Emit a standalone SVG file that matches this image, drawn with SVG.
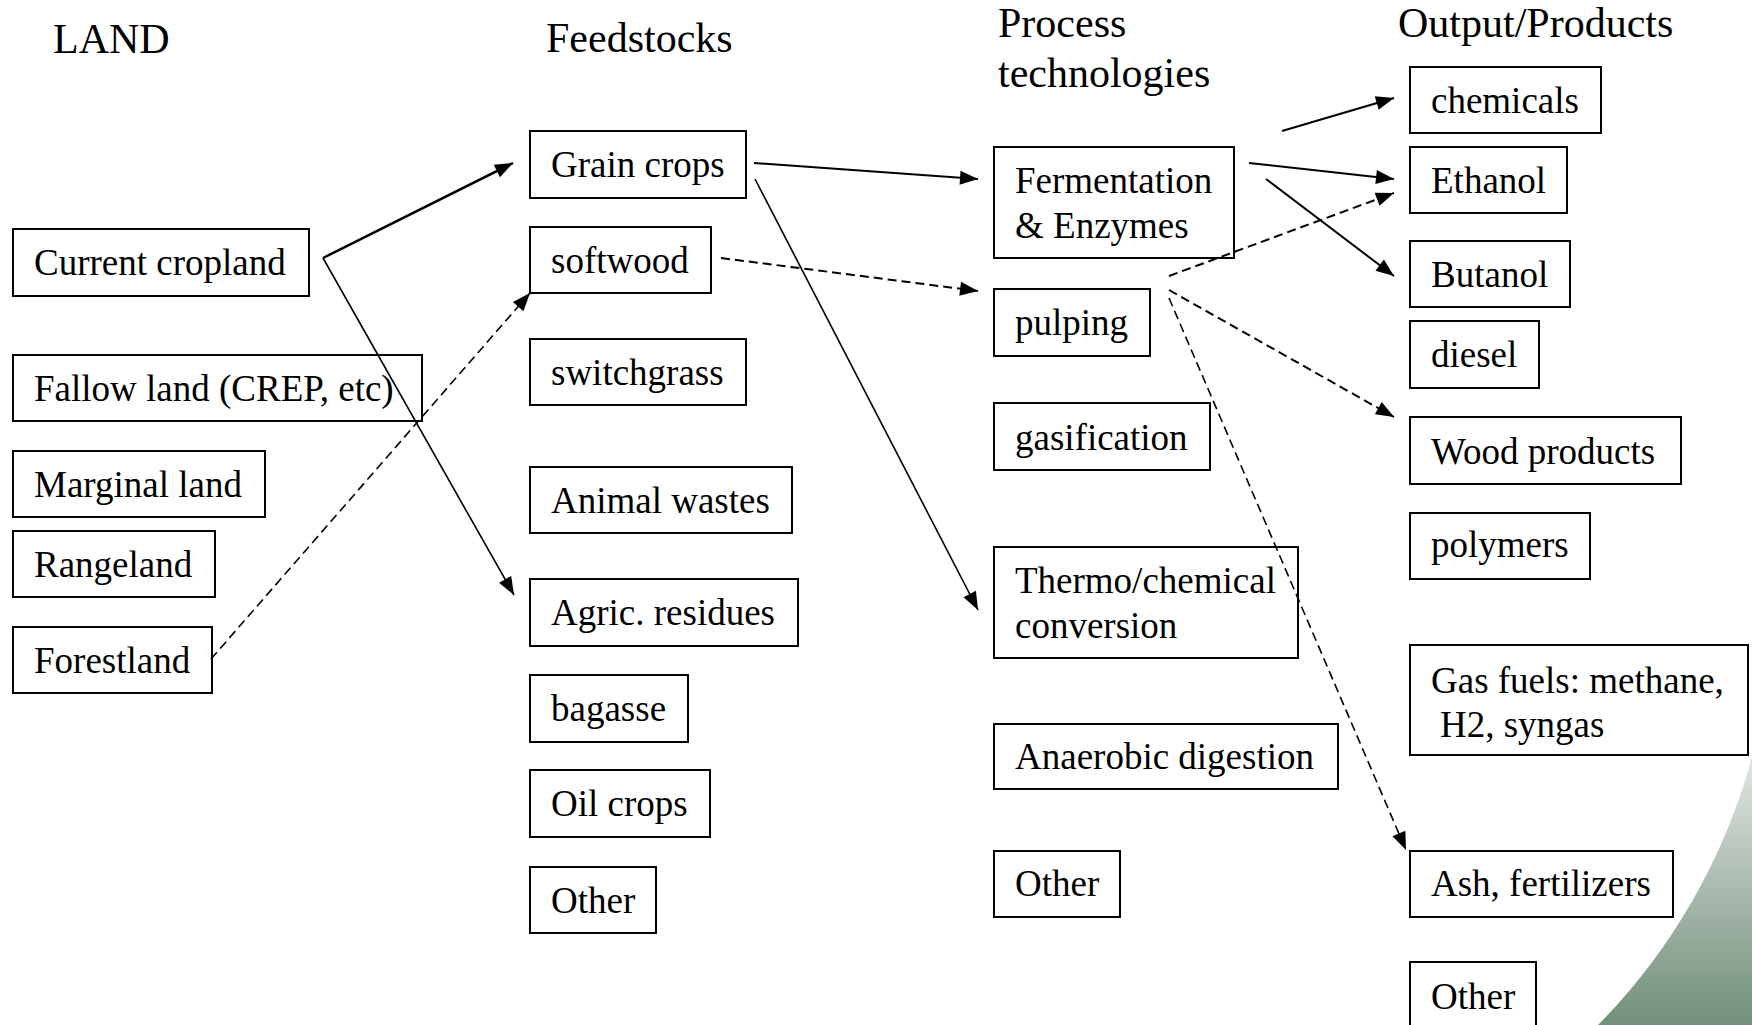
<svg xmlns="http://www.w3.org/2000/svg" width="1752" height="1025" viewBox="0 0 1752 1025">
<style>
.box{fill:#fff;stroke:#000;stroke-width:2}
.t{font-family:"Liberation Serif","Times New Roman",serif;font-size:37px;fill:#000}
.h{font-family:"Liberation Serif","Times New Roman",serif;font-size:42px;fill:#000}
.c{fill:none;stroke:#000;stroke-width:2}
.d{stroke-dasharray:9,5}
</style>
<defs>
<linearGradient id="g" x1="0" y1="757" x2="0" y2="1025" gradientUnits="userSpaceOnUse">
<stop offset="0" stop-color="#e2e6e2"/>
<stop offset="0.5" stop-color="#a8b9ad"/>
<stop offset="1" stop-color="#71907b"/>
</linearGradient>
<marker id="a" markerUnits="userSpaceOnUse" markerWidth="20" markerHeight="16" refX="18" refY="7" orient="auto" overflow="visible">
<path d="M0,0 L18,7 L0,14 z" fill="#000"/>
</marker>
</defs>
<rect x="0" y="0" width="1752" height="1025" fill="#fff"/>
<path d="M1752,757 A610,610 0 0 1 1598,1025 L1752,1025 Z" fill="url(#g)"/>

<g id="headings">
<text class="h" x="53" y="53">LAND</text>
<text class="h" x="546" y="52">Feedstocks</text>
<text class="h" x="998" y="37">Process</text>
<text class="h" x="998" y="87">technologies</text>
<text class="h" x="1398" y="37">Output/Products</text>
</g>

<g id="current-cropland"><rect class="box" x="13" y="229" width="296" height="67"/><text class="t" x="34" y="275">Current cropland</text></g>
<g id="fallow-land"><rect class="box" x="13" y="355" width="409" height="66"/><text class="t" x="34" y="401">Fallow land (CREP, etc)</text></g>
<g id="marginal-land"><rect class="box" x="13" y="451" width="252" height="66"/><text class="t" x="34" y="497">Marginal land</text></g>
<g id="rangeland"><rect class="box" x="13" y="531" width="202" height="66"/><text class="t" x="34" y="577">Rangeland</text></g>
<g id="forestland"><rect class="box" x="13" y="627" width="199" height="66"/><text class="t" x="34" y="673">Forestland</text></g>

<g id="grain-crops"><rect class="box" x="530" y="131" width="216" height="67"/><text class="t" x="551" y="177">Grain crops</text></g>
<g id="softwood"><rect class="box" x="530" y="227" width="181" height="66"/><text class="t" x="551" y="273">softwood</text></g>
<g id="switchgrass"><rect class="box" x="530" y="339" width="216" height="66"/><text class="t" x="551" y="385">switchgrass</text></g>
<g id="animal-wastes"><rect class="box" x="530" y="467" width="262" height="66"/><text class="t" x="551" y="513">Animal wastes</text></g>
<g id="agric-residues"><rect class="box" x="530" y="579" width="268" height="67"/><text class="t" x="551" y="625">Agric. residues</text></g>
<g id="bagasse"><rect class="box" x="530" y="675" width="158" height="67"/><text class="t" x="551" y="721">bagasse</text></g>
<g id="oil-crops"><rect class="box" x="530" y="770" width="180" height="67"/><text class="t" x="551" y="816">Oil crops</text></g>
<g id="feed-other"><rect class="box" x="530" y="867" width="126" height="66"/><text class="t" x="551" y="913">Other</text></g>

<g id="fermentation"><rect class="box" x="994" y="147" width="240" height="111"/><text class="t" x="1015" y="193">Fermentation</text><text class="t" x="1015" y="238">&amp; Enzymes</text></g>
<g id="pulping"><rect class="box" x="994" y="289" width="156" height="67"/><text class="t" x="1015" y="335">pulping</text></g>
<g id="gasification"><rect class="box" x="994" y="403" width="216" height="67"/><text class="t" x="1015" y="450">gasification</text></g>
<g id="thermo"><rect class="box" x="994" y="547" width="304" height="111"/><text class="t" x="1015" y="593">Thermo/chemical</text><text class="t" x="1015" y="638">conversion</text></g>
<g id="anaerobic"><rect class="box" x="994" y="724" width="344" height="65"/><text class="t" x="1015" y="769">Anaerobic digestion</text></g>
<g id="proc-other"><rect class="box" x="994" y="851" width="126" height="66"/><text class="t" x="1015" y="896">Other</text></g>

<g id="chemicals"><rect class="box" x="1410" y="67" width="191" height="66"/><text class="t" x="1431" y="113">chemicals</text></g>
<g id="ethanol"><rect class="box" x="1410" y="147" width="157" height="66"/><text class="t" x="1431" y="193">Ethanol</text></g>
<g id="butanol"><rect class="box" x="1410" y="241" width="160" height="66"/><text class="t" x="1431" y="287">Butanol</text></g>
<g id="diesel"><rect class="box" x="1410" y="321" width="129" height="67"/><text class="t" x="1431" y="367">diesel</text></g>
<g id="wood-products"><rect class="box" x="1410" y="417" width="271" height="67"/><text class="t" x="1431" y="464">Wood products</text></g>
<g id="polymers"><rect class="box" x="1410" y="513" width="180" height="66"/><text class="t" x="1431" y="557">polymers</text></g>
<g id="gas-fuels"><rect class="box" x="1410" y="645" width="338" height="110"/><text class="t" x="1431" y="693">Gas fuels: methane,</text><text class="t" x="1440" y="737">H2, syngas</text></g>
<g id="ash"><rect class="box" x="1410" y="851" width="263" height="66"/><text class="t" x="1431" y="896">Ash, fertilizers</text></g>
<g id="out-other"><rect class="box" x="1410" y="962" width="126" height="70"/><text class="t" x="1431" y="1009">Other</text></g>

<g id="connectors">
<path class="c" style="stroke-width:2.5" d="M323,258 L513,163" marker-end="url(#a)"/>
<path class="c" style="stroke-width:1.6" d="M323,258 L514,595" marker-end="url(#a)"/>
<path class="c d" style="stroke-width:1.6" d="M211,659 L530,293" marker-end="url(#a)"/>
<path class="c" d="M754,163 L978,179" marker-end="url(#a)"/>
<path class="c" style="stroke-width:1.6" d="M755,179 L978,610" marker-end="url(#a)"/>
<path class="c d" d="M721,258 L978,291" marker-end="url(#a)"/>
<path class="c" d="M1282,131 L1394,98" marker-end="url(#a)"/>
<path class="c" d="M1249,163 L1394,179" marker-end="url(#a)"/>
<path class="c" d="M1266,179 L1394,276" marker-end="url(#a)"/>
<path class="c d" d="M1169,276 L1394,193" marker-end="url(#a)"/>
<path class="c d" d="M1169,290 L1394,417" marker-end="url(#a)"/>
<path class="c d" style="stroke-width:1.6" d="M1169,298 L1406,850" marker-end="url(#a)"/>
</g>
</svg>
